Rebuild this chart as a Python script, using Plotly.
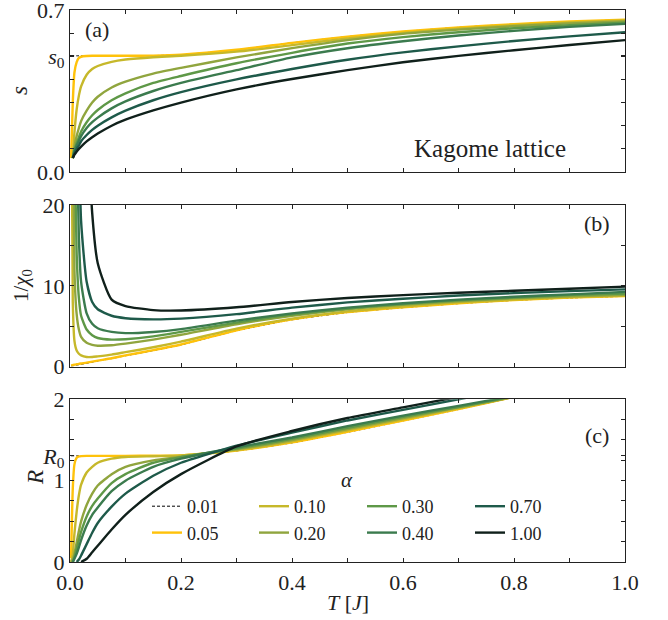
import plotly.graph_objects as go

# ---------------- data ----------------
T = [0.002, 0.005, 0.008, 0.012, 0.016, 0.02, 0.03, 0.04, 0.05, 0.075, 0.1,
     0.15, 0.2, 0.3, 0.4, 0.5, 0.6, 0.7, 0.8, 0.9, 1.0]

alphas = ["0.01", "0.05", "0.10", "0.20", "0.30", "0.40", "0.70", "1.00"]
colors = ["#000000", "#FFC20A", "#C6B82A", "#90A53E", "#5E9847", "#3B7B4E", "#1E5A4A", "#10201B"]

S0 = 0.502
R0 = 1.305

# panel (a): entropy s
s_vals = {
    "0.01": [0.502, 0.502, 0.502, 0.502, 0.502, 0.502, 0.502, 0.502, 0.502, 0.502, 0.502, 0.503, 0.507, 0.528, 0.558, 0.585, 0.607, 0.625, 0.639, 0.65, 0.658],
    "0.05": [0.06, 0.3, 0.43, 0.475, 0.493, 0.498, 0.501, 0.502, 0.502, 0.502, 0.502, 0.503, 0.507, 0.528, 0.558, 0.585, 0.607, 0.625, 0.639, 0.65, 0.658],
    "0.10": [None, 0.06, 0.17, 0.27, 0.33, 0.37, 0.42, 0.445, 0.458, 0.476, 0.486, 0.496, 0.502, 0.52, 0.548, 0.577, 0.601, 0.619, 0.634, 0.646, 0.655],
    "0.20": [None, 0.06, 0.11, 0.155, 0.19, 0.22, 0.265, 0.3, 0.325, 0.365, 0.39, 0.425, 0.45, 0.495, 0.535, 0.57, 0.597, 0.615, 0.63, 0.642, 0.65],
    "0.30": [None, 0.06, 0.095, 0.125, 0.15, 0.175, 0.215, 0.245, 0.268, 0.31, 0.34, 0.385, 0.415, 0.47, 0.515, 0.555, 0.583, 0.604, 0.621, 0.634, 0.645],
    "0.40": [None, 0.06, 0.09, 0.115, 0.135, 0.155, 0.19, 0.215, 0.235, 0.275, 0.305, 0.35, 0.385, 0.44, 0.495, 0.535, 0.565, 0.59, 0.61, 0.627, 0.64],
    "0.70": [None, 0.06, 0.08, 0.1, 0.115, 0.133, 0.16, 0.182, 0.2, 0.236, 0.265, 0.31, 0.345, 0.4, 0.445, 0.485, 0.517, 0.543, 0.566, 0.586, 0.604],
    "1.00": [None, 0.06, 0.075, 0.088, 0.1, 0.11, 0.132, 0.15, 0.166, 0.2, 0.226, 0.266, 0.3, 0.357, 0.402, 0.44, 0.474, 0.502, 0.526, 0.549, 0.57],
}

# panel (b): inverse susceptibility 1/chi0
chi_vals = {
    "0.01": [0.1, 0.12, 0.15, 0.2, 0.25, 0.3, 0.42, 0.55, 0.7, 1.0, 1.35, 2.0, 2.7, 4.45, 5.8, 6.7, 7.3, 7.8, 8.2, 8.5, 8.7],
    "0.05": [0.15, 0.2, 0.25, 0.3, 0.35, 0.4, 0.5, 0.62, 0.75, 1.05, 1.4, 2.05, 2.75, 4.5, 5.85, 6.75, 7.35, 7.85, 8.25, 8.55, 8.75],
    "0.10": [40, 8, 3.2, 2.0, 1.6, 1.4, 1.2, 1.2, 1.28, 1.5, 1.8, 2.4, 3.1, 4.7, 5.95, 6.85, 7.45, 7.95, 8.3, 8.6, 8.8],
    "0.20": [80, 35, 12, 6.5, 4.6, 3.7, 2.95, 2.7, 2.6, 2.65, 2.85, 3.35, 3.95, 5.25, 6.3, 7.1, 7.65, 8.1, 8.45, 8.7, 8.9],
    "0.30": [None, 60, 30, 14, 8.5, 6.3, 4.6, 3.9, 3.55, 3.35, 3.4, 3.75, 4.3, 5.45, 6.45, 7.2, 7.75, 8.2, 8.55, 8.85, 9.05],
    "0.40": [None, None, 60, 30, 16, 10.5, 6.6, 5.3, 4.75, 4.3, 4.15, 4.3, 4.65, 5.7, 6.6, 7.3, 7.85, 8.3, 8.65, 8.95, 9.25],
    "0.70": [None, None, None, 60, 30, 18, 10.5, 8.0, 7.1, 6.3, 6.0, 5.85, 5.95, 6.5, 7.3, 7.95, 8.4, 8.8, 9.1, 9.35, 9.57],
    "1.00": [None, None, None, None, None, 60, 35, 19, 12.8, 8.3, 7.5, 7.0, 6.95, 7.35, 8.0, 8.5, 8.85, 9.15, 9.4, 9.65, 9.9],
}

# panel (c): R
r_vals = {
    "0.01": [1.305, 1.305, 1.305, 1.305, 1.305, 1.305, 1.305, 1.305, 1.305, 1.305, 1.305, 1.306, 1.31, 1.365, 1.465, 1.595, 1.735, 1.875, 2.025, 2.17, 2.31],
    "0.05": [0.05, 0.9, 1.2, 1.28, 1.297, 1.302, 1.305, 1.305, 1.305, 1.305, 1.305, 1.306, 1.31, 1.37, 1.47, 1.6, 1.74, 1.88, 2.03, 2.17, 2.31],
    "0.10": [0.0, 0.1, 0.35, 0.62, 0.82, 0.95, 1.1, 1.17, 1.22, 1.27, 1.29, 1.3, 1.31, 1.375, 1.485, 1.62, 1.755, 1.89, 2.03, 2.17, 2.31],
    "0.20": [0.0, 0.03, 0.1, 0.24, 0.38, 0.5, 0.7, 0.84, 0.94, 1.08, 1.17, 1.25, 1.295, 1.385, 1.5, 1.635, 1.77, 1.9, 2.03, 2.16, 2.29],
    "0.30": [None, 0.0, 0.06, 0.16, 0.27, 0.37, 0.56, 0.69, 0.78, 0.97, 1.08, 1.22, 1.29, 1.395, 1.515, 1.65, 1.785, 1.905, 2.035, 2.16, 2.29],
    "0.40": [None, 0.0, 0.04, 0.1, 0.18, 0.27, 0.45, 0.58, 0.67, 0.87, 1.0, 1.17, 1.27, 1.41, 1.53, 1.67, 1.8, 1.92, 2.04, 2.16, 2.28],
    "0.70": [None, None, None, 0.0, 0.03, 0.08, 0.22, 0.36, 0.48, 0.68, 0.84, 1.06, 1.22, 1.43, 1.59, 1.74, 1.87, 2.0, 2.13, 2.26, 2.39],
    "1.00": [None, None, None, None, None, 0.0, 0.04, 0.12, 0.2, 0.4, 0.58, 0.86, 1.08, 1.42, 1.61, 1.77, 1.9, 2.03, 2.16, 2.29, 2.42],
}

legend_of = {"0.01": "legend", "0.05": "legend", "0.10": "legend2", "0.20": "legend2",
             "0.30": "legend3", "0.40": "legend3", "0.70": "legend4", "1.00": "legend4"}

x_ticks = [0.0, 0.2, 0.4, 0.6, 0.8, 1.0]
x_ticktext = ["0.0", "0.2", "0.4", "0.6", "0.8", "1.0"]

# ---------------- figure ----------------
FONT = "'Liberation Serif', 'DejaVu Serif', serif"
INK = "#222"
fig = go.Figure()

panels = [("x", "y", s_vals), ("x2", "y2", chi_vals), ("x3", "y3", r_vals)]
for pi, (xa, ya, vals) in enumerate(panels):
    for a, c in zip(alphas, colors):
        dashed = a == "0.01"
        fig.add_trace(go.Scatter(
            x=T, y=vals[a], xaxis=xa, yaxis=ya, mode="lines", name=a,
            line=dict(color=c, width=1.0 if dashed else 2.4,
                      dash="3px,2px" if dashed else "solid",
                      shape="spline", smoothing=0.6),
            legend=legend_of[a], legendgroup=a,
            showlegend=(pi == 2), hoverinfo="skip",
        ))

axis_common = dict(
    showline=True, linecolor=INK, linewidth=1.3, mirror="ticks",
    ticks="inside", ticklen=4, tickwidth=1, tickcolor=INK,
    showgrid=False, zeroline=False, automargin=False,
    ticklabeloverflow="allow",
    tickfont=dict(family=FONT, size=22, color=INK),
)

bot_px, H = 562, 552
def dom(y0, y1):
    return [(bot_px - y1) / H, (bot_px - y0) / H]

layout = dict(
    width=668, height=620,
    margin=dict(l=70, r=43, t=10, b=58, autoexpand=False),
    paper_bgcolor="white", plot_bgcolor="white",
    font=dict(family=FONT, color=INK),
    showlegend=True,
)

xdict = dict(range=[0, 1], tickvals=x_ticks, ticktext=x_ticktext,
             minor=dict(ticks="inside", dtick=0.1, tick0=0, ticklen=4, tickcolor=INK))
layout["xaxis"] = dict(**axis_common, **xdict, anchor="y", domain=[0, 1], showticklabels=False)
layout["xaxis2"] = dict(**axis_common, **xdict, anchor="y2", domain=[0, 1], showticklabels=False)
layout["xaxis3"] = dict(**axis_common, **xdict, anchor="y3", domain=[0, 1])

layout["yaxis"] = dict(**axis_common, anchor="x", domain=dom(10, 172), range=[0, 0.7],
                       tickvals=[0.0, S0, 0.7], ticktext=["0.0", "<i>s</i><sub>0</sub>", "0.7"],
                       minor=dict(ticks="inside", dtick=0.1, tick0=0, ticklen=4, tickcolor=INK))
layout["yaxis2"] = dict(**axis_common, anchor="x2", domain=dom(205, 366.7), range=[0, 20],
                        tickvals=[0, 10, 20], ticktext=["0", "10", "20"],
                        minor=dict(ticks="inside", dtick=5, tick0=0, ticklen=4, tickcolor=INK))
layout["yaxis3"] = dict(**axis_common, anchor="x3", domain=dom(399.3, 562), range=[0, 2],
                        tickvals=[0, 1, R0, 2], ticktext=["0", "1", "<i>R</i><sub>0</sub>", "2"],
                        minor=dict(ticks="inside", dtick=0.25, tick0=0, ticklen=4, tickcolor=INK))

def px_x(px):
    return (px - 70) / 555
def px_y(py):
    return (bot_px - py) / H

leg_y = px_y(488)
for name, left in [("legend", 147), ("legend2", 254), ("legend3", 362), ("legend4", 470)]:
    layout[name] = dict(x=px_x(left), y=leg_y, xanchor="left", yanchor="top",
                        orientation="v", bgcolor="rgba(0,0,0,0)", borderwidth=0,
                        font=dict(family=FONT, size=18, color=INK),
                        tracegroupgap=4, itemwidth=30, traceorder="normal")

fig.update_layout(**layout)

# (text, x px, y px, font size, angle)
annots = [
    ("(a)", 97, 29, 22, 0), ("(b)", 597, 224, 22, 0), ("(c)", 597, 435, 22, 0),
    ("Kagome lattice", 490, 148, 25, 0), ("<i>α</i>", 347, 480, 21, 0),
    ("<i>s</i>", 20, 91, 23, -90), ("1/<i>χ</i><sub>0</sub>", 22, 286, 21, -90),
    ("<i>R</i>", 35, 478, 23, -90), ("<i>T</i> [<i>J</i>]", 348, 602, 22, 0),
]
for txt, px, py, fs, ang in annots:
    fig.add_annotation(text=txt, x=px_x(px), y=px_y(py), xref="paper", yref="paper",
                       xanchor="center", yanchor="middle", showarrow=False, textangle=ang,
                       font=dict(family=FONT, size=fs, color=INK))

fig.write_html("out.html")
